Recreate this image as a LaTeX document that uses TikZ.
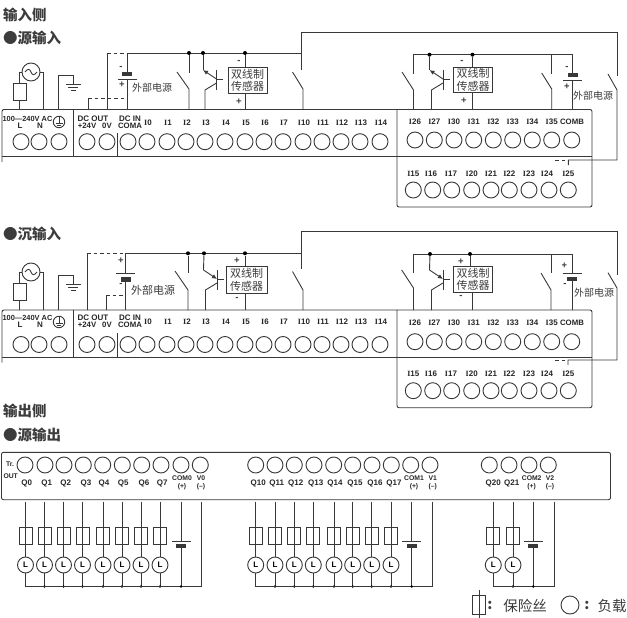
\documentclass[tikz,border=0pt]{standalone}
\usepackage{fontspec}
\setmainfont{Liberation Sans}
\newfontfamily\cjk{Noto Sans CJK SC}
\newfontfamily\slab{Liberation Serif}
\usetikzlibrary{arrows.meta,calc}
\definecolor{wirecol}{HTML}{383838}
\definecolor{textcol}{HTML}{3C3C3C}
\tikzset{
	wire/.style={draw=wirecol, line width=0.9pt},
	dashwire/.style={wire, dash pattern=on 3.5pt off 3pt},
	term/.style={circle, wire, minimum size=16pt, inner sep=0pt},
	pinlabel/.style={inner sep=0pt, text=black!85, font=\bfseries\fontsize{8}{8}\selectfont},
	narrowlabel/.style={pinlabel, font=\bfseries\fontsize{7.8}{8}\selectfont},
	tinylabel/.style={inner sep=0pt, text=black!85, align=center, font=\bfseries\fontsize{6.8}{8}\selectfont},
	headline/.style={anchor=west, inner sep=0pt, text=textcol, font=\cjk\bfseries\fontsize{14.5}{14.5}\selectfont},
	sourcetext/.style={inner sep=0pt, text=textcol, font=\cjk\fontsize{10}{10}\selectfont},
	legendtext/.style={inner sep=0pt, text=textcol, font=\cjk\bfseries\fontsize{14.5}{14.5}\selectfont},
	sensorbox/.style={rectangle, wire, minimum width=39pt, minimum height=25.5pt, inner sep=0pt, align=center, text=textcol, font=\cjk\fontsize{11}{12.5}\selectfont},
	fusebox/.style={rectangle, wire, minimum width=13pt, minimum height=17pt, inner sep=0pt},
	loadring/.style={circle, wire, minimum size=16pt, inner sep=0pt, font=\bfseries\fontsize{8}{8}\selectfont},
	acring/.style={circle, wire, minimum size=18pt, inner sep=0pt},
	batbar/.style={rectangle, fill=wirecol, minimum width=10pt, minimum height=4.5pt, inner sep=0pt},
	joint/.style={circle, fill=black, minimum size=4pt, inner sep=0pt},
	smalljoint/.style={circle, fill=black, minimum size=2.8pt, inner sep=0pt},
	sign/.style={inner sep=0pt, text=textcol, font=\bfseries\fontsize{9.5}{9.5}\selectfont},
}
\newcommand{\ii}{{\slab\bfseries I}}
% blade of a switch, then straight down to the terminal block
\newcommand{\blade}[6]{%
	\coordinate (#1a) at (#2,#3);
	\coordinate (#1b) at (#4,#5);
	\draw[wire] (#1a) -- (#1b) -- (#1b |- #6);
}
% transistor: name, x of outer wire, y of top, arrow, block top
\newcommand{\npn}[5]{%
	\coordinate (#1e) at (#2,#3);
	\coordinate (#1m) at ($(#2,#3)+(13.5,9)$);
	\coordinate (#1u) at ($(#2,#3)+(13.5,0)$);
	\coordinate (#1d) at ($(#2,#3)+(13.5,20)$);
	\coordinate (#1o) at ($(#2,#3)+(20,9)$);
	\coordinate (#1f) at ($(#2,#3)+(13.5,13)$);
	\coordinate (#1c) at ($(#2,#3)+(2,20)$);
	\draw[wire, #4] (#1e) -- (#1m);
	\draw[wire] (#1u) -- (#1d);
	\draw[wire] (#1m) -- (#1o);
	\draw[wire] (#1f) -- (#1c) -- (#1c |- #5);
}
% battery: name, x, y of plate, y of bar
\newcommand{\battery}[4]{%
	\coordinate (#1p) at (#2,#3);
	\node[batbar] (#1b) at (#2,#4) {};
	\draw[wire] ($(#1p)+(-9.5,0)$) -- ($(#1p)+(9.5,0)$);
}
% mains side with earth, one block each
\newcommand{\acfeed}[3]{%
	\node[acring] (#1ac) at (31,#2) {};
	\draw[wire] ($(#1ac)+(-6,0)$) .. controls ($(#1ac)+(-3,-4)$) and ($(#1ac)+(-1,-3)$) .. (#1ac.center) .. controls ($(#1ac)+(1,3)$) and ($(#1ac)+(3,4)$) .. ($(#1ac)+(6,0)$);
	\node[fusebox] (#1fu) at (19.5,#2+19.5) {};
	\coordinate (#1r) at (43,#2);
	\draw[wire] (#1ac.west) -| (#1fu.north);
	\draw[wire] (#1fu.south) -- (#1fu.south |- #3);
	\draw[wire] (#1ac.east) -- (#1r) -- (#1r |- #3);
	\coordinate (#1g) at (58,#2+3);
	\coordinate (#1h) at (73,#2+3);
	\coordinate (#1k) at (73,#2+12.5);
	\draw[wire] (#1g |- #3) -- (#1g) -- (#1h) -- (#1k);
	\draw[wire] ($(#1k)+(-7.5,0)$) -- ($(#1k)+(7.5,0)$);
	\draw[wire] ($(#1k)+(-5,3)$) -- ($(#1k)+(5,3)$);
	\draw[wire] ($(#1k)+(-2.5,6)$) -- ($(#1k)+(2.5,6)$);
}
% terminal block: prefix, top, middle, bottom, y of left row, left labels, right row, right labels, lower row
\newcommand{\inblock}[9]{%
	\draw[wire, rounded corners=2pt] (2,#3+5.5) -- (2,#2) -- (592,#2) -- (592,#4) -- (397,#4) -- (397,#2);
	\draw[wire] (2,#3) -- (592,#3);
	\draw[wire] (73,#2) -- (73,#3);
	\draw[wire] (117,#2+23) -- (117,#3);
	\foreach \n/\x in {a/21,b/39,c/59,d/87,e/107,f/128}
		\node[term] (#1T\n) at (\x,#5) {};
	\foreach \t/\x in {0/147,1/167,2/186,3/205,4/225,5/245,6/264,7/283,10/303,11/322,12/341,13/360,14/380}{
		\node[term] (#1I\t) at (\x,#5) {};
		\node[pinlabel] (#1L\t) at (\x+1,#6) {\ii\t};
	}
	\foreach \t/\x in {26/415,27/434.3,30/454,31/473.7,32/493.3,33/512.7,34/532.3,35/551.7}{
		\node[term] (#1I\t) at (\x,#7) {};
		\node[pinlabel] (#1L\t) at (\x,#8) {\ii\t};
	}
	\node[term] (#1Tg) at (571.7,#7) {};
	\node[narrowlabel] (#1Lg) at (572,#8) {COMB};
	\foreach \t/\x in {15/413.3,16/432.7,17/451.7,20/471.7,21/491,22/509.3,23/529,24/549,25/568.3}{
		\node[term] (#1I\t) at (\x,#9) {};
	}
}
\newcommand{\lowerlabels}[2]{%
	\foreach \t/\x in {15/413.3,16/431,17/451,20/471.7,21/491,22/509.3,23/529,24/547,25/568.3}
		\node[pinlabel] (#1L\t) at (\x,#2) {\ii\t};
}
% texts at the left end of a block
\newcommand{\sidelabels}[4]{%
	\node[pinlabel, font=\bfseries\fontsize{7.4}{8}\selectfont] (#1mains) at (27.5,#2) {100—240V AC};
	\node[pinlabel] (#1LL) at (20,#3) {L};
	\node[pinlabel] (#1LN) at (40,#3) {N};
	\node[circle, wire, fill=white, minimum size=11.5pt, inner sep=0pt] (#1Lpe) at (59,#4) {};
	\draw[wire, line width=0.8pt] (#1Lpe.north) -- ($(#1Lpe)+(0,1.5)$);
	\draw[wire, line width=0.8pt] ($(#1Lpe)+(-3.5,1.5)$) -- ($(#1Lpe)+(3.5,1.5)$);
	\draw[wire, line width=0.8pt] ($(#1Lpe)+(-2,3.2)$) -- ($(#1Lpe)+(2,3.2)$);
	\node[pinlabel] (#1Ldc) at (93,#2) {DC OUT};
	\node[narrowlabel] (#1L24) at (87,#3) {+24V};
	\node[narrowlabel] (#1L0v) at (107,#3) {0V};
	\node[pinlabel] (#1Lin) at (130,#2) {DC IN};
	\node[narrowlabel] (#1Lcm) at (130,#3) {COMA};
}
\begin{document}
\begin{tikzpicture}[x=1pt, y=-1pt, >={Latex[length=5pt,width=4.5pt]}]
	\useasboundingbox (0,0) rectangle (627,618);
	\node[headline] (title1) at (3,15) {输入侧};
	\node[headline] (title2) at (3,38) {●源输入};
	\node[headline] (title3) at (3,234) {●沉输入};
	\node[headline] (title4) at (3,411) {输出侧};
	\node[headline] (title5) at (3,435) {●源输出};

	%source input
	\coordinate (top1) at (0,109.5);
	\inblock{a}{109.5}{156.5}{207}{141.7}{123}{140}{122}{190}
	\lowerlabels{a}{173.7}
	\sidelabels{a}{118.5}{125.5}{122}
	\acfeed{a}{72}{top1}
	\coordinate (railA) at (107,53);
	\coordinate (railB) at (127,53);
	\coordinate (railC) at (301,53);
	\coordinate (loopA) at (301,32.5);
	\coordinate (loopB) at (617,32.5);
	\draw[wire] (railA |- top1) -- (railA);
	\draw[dashwire] (railA) -- (railB);
	\draw[wire] (railB) -- (railC);
	\battery{ab}{127}{79}{74}
	\draw[wire] (railB) -- (abb.north);
	\draw[wire] (abp) -- (abp |- top1);
	\node[sign] (abm) at (121,68) {-};
	\node[sign] (abq) at (122,85) {+};
	\node[sourcetext] (abt) at (152,88) {外部电源};
	\coordinate (dcA) at (88,98);
	\coordinate (dcB) at (127,98);
	\draw[wire] (dcA |- top1) -- (dcA);
	\draw[dashwire] (dcA) -- (dcB);
	\node[joint] (j2) at (189,53) {};
	\node[joint] (j3) at (203,53) {};
	\node[joint] (j5) at (245,53) {};
	\blade{s2}{177}{72}{189}{89}{top1}
	\coordinate (s2t) at (189,73);
	\draw[wire] (j2) -- (s2t);
	\npn{t3}{203}{70}{<-}{top1}
	\draw[wire] (j3) -- (t3e);
	\node[sensorbox] (sen1) at (247.5,80.5) {双线制\\传感器};
	\draw[wire] (j5) -- (j5 |- sen1.north);
	\draw[wire] (j5 |- sen1.south) -- (j5 |- top1);
	\node[sign] (sen1m) at (239,62) {-};
	\node[sign] (sen1p) at (239,102) {+};
	\blade{s10}{292.5}{72}{303}{89}{top1}
	\coordinate (s10t) at (301,70);
	\draw[wire] (loopA) -- (s10t);
	\draw[wire] (loopA) -- (loopB);
	%right part
	\coordinate (rrL) at (413,54.7);
	\coordinate (rrR) at (572.7,54.7);
	\draw[wire] (rrL) -- (rrR);
	\coordinate (s26t) at (413,74);
	\draw[wire] (rrL) -- (s26t);
	\blade{s26}{402}{72}{413.5}{90}{top1}
	\node[joint] (j27) at (429.5,54.7) {};
	\node[joint] (j31) at (472.5,54.7) {};
	\npn{t27}{429.5}{70}{<-}{top1}
	\draw[wire] (j27) -- (t27e);
	\node[sensorbox] (sen2) at (473,80) {双线制\\传感器};
	\draw[wire] (j31) -- (j31 |- sen2.north);
	\draw[wire] (j31 |- sen2.south) -- (j31 |- top1);
	\node[sign] (sen2m) at (462,62) {-};
	\node[sign] (sen2p) at (464,101) {+};
	\coordinate (s35r) at (551.7,54.7);
	\coordinate (s35t) at (551.7,74);
	\draw[wire] (s35r) -- (s35t);
	\blade{s35}{541.7}{73}{551.7}{89}{top1}
	\battery{bb}{572.7}{80.7}{75}
	\draw[wire] (rrR) -- (bbb.north);
	\draw[wire] (bbp) -- (bbp |- top1);
	\node[sign] (bbm) at (567,68) {-};
	\node[sign] (bbq) at (567,87) {+};
	\node[sourcetext] (bbt) at (593,96) {外部电源};
	\coordinate (farA) at (617,76);
	\coordinate (farB) at (617,160);
	\coordinate (farC) at (568.3,160);
	\coordinate (farD) at (568.3,165);
	\coordinate (farE) at (565,160);
	\coordinate (farF) at (552,160);
	\coordinate (farG) at (608,74);
	\coordinate (farH) at (617,90);
	\draw[wire] (loopB) -- (farA);
	\draw[wire] (farG) -- (farH) -- (farB) -- (farC) -- (farD);
	\draw[dashwire] (farE) -- (farF);

	%sink input
	\coordinate (top2) at (0,310);
	\inblock{b}{310}{357}{407.7}{344.5}{322}{341.7}{323}{390.7}
	\lowerlabels{b}{374}
	\sidelabels{b}{318}{325}{322}
	\acfeed{b}{272}{top2}
	\coordinate (rail2A) at (87,253.3);
	\coordinate (rail2B) at (125.5,253.3);
	\coordinate (rail2C) at (301,253.3);
	\coordinate (loop2A) at (301,231);
	\coordinate (loop2B) at (617,231);
	\draw[wire] (rail2A |- top2) -- (rail2A);
	\draw[dashwire] (rail2A) -- (rail2B);
	\draw[wire] (rail2B) -- (rail2C);
	\battery{cb}{125.5}{273.3}{279.5}
	\draw[wire] (rail2B) -- (cbp);
	\draw[wire] (cbb.south) -- (cbb.south |- top2);
	\node[sign] (cbq) at (121,261) {+};
	\node[sign] (cbm) at (121,285) {-};
	\node[sourcetext, font=\cjk\fontsize{11}{11}\selectfont] (cbt) at (153,290) {外部电源};
	\coordinate (dc2A) at (106,295);
	\coordinate (dc2B) at (125.5,295);
	\draw[wire] (dc2A |- top2) -- (dc2A);
	\draw[dashwire] (dc2A) -- (dc2B);
	\node[joint] (k2) at (188,253.3) {};
	\node[joint] (k3) at (204,253.3) {};
	\node[joint] (k5) at (245,253.3) {};
	\blade{u2}{175}{271}{188}{290}{top2}
	\coordinate (u2t) at (188,273);
	\draw[wire] (k2) -- (u2t);
	\npn{v3}{203.5}{270}{->}{top2}
	\draw[wire] (k3) -- (v3e);
	\node[sensorbox, minimum width=41pt, minimum height=26.5pt] (sen3) at (246.5,280) {双线制\\传感器};
	\draw[wire] (k5) -- (k5 |- sen3.north);
	\draw[wire] (k5 |- sen3.south) -- (k5 |- top2);
	\node[sign] (sen3p) at (237,261) {+};
	\node[sign] (sen3m) at (237,299) {-};
	\blade{u10}{292.5}{271.5}{303}{290}{top2}
	\coordinate (u10t) at (301,269);
	\draw[wire] (loop2A) -- (u10t);
	\draw[wire] (loop2A) -- (loop2B);
	%right part
	\coordinate (qqL) at (413,254);
	\coordinate (qqR) at (572,254);
	\draw[wire] (qqL) -- (qqR);
	\coordinate (u26t) at (413,273);
	\draw[wire] (qqL) -- (u26t);
	\blade{u26}{401.7}{270}{413.5}{288}{top2}
	\node[joint] (k27) at (430,254) {};
	\node[joint] (k31) at (470,254) {};
	\npn{v27}{429.5}{270}{->}{top2}
	\draw[wire] (k27) -- (v27e);
	\node[sensorbox] (sen4) at (473,279.2) {双线制\\传感器};
	\draw[wire] (k31) -- (k31 |- sen4.north);
	\coordinate (sen4b) at (472.3,291.7);
	\draw[wire] (sen4b) -- (sen4b |- top2);
	\node[sign] (sen4p) at (461,262) {+};
	\node[sign] (sen4m) at (461,297) {-};
	\coordinate (u35r) at (551,254);
	\coordinate (u35t) at (551,273);
	\draw[wire] (u35r) -- (u35t);
	\blade{u35}{541}{273}{551}{290}{top2}
	\battery{db}{572}{273.3}{279}
	\draw[wire] (qqR) -- (dbp);
	\draw[wire] (dbb.south) -- (dbb.south |- top2);
	\node[sign] (dbq) at (564.5,266) {+};
	\node[sign] (dbm) at (565,285) {-};
	\node[sourcetext] (dbt) at (594,293) {外部电源};
	\coordinate (far2A) at (617,275);
	\coordinate (far2B) at (617,360);
	\coordinate (far2C) at (568,360);
	\coordinate (far2D) at (568,365);
	\coordinate (far2E) at (565,360);
	\coordinate (far2F) at (552,360);
	\coordinate (far2G) at (608,272.7);
	\coordinate (far2H) at (617,288);
	\draw[wire] (loop2B) -- (far2A);
	\draw[wire] (far2G) -- (far2H) -- (far2B) -- (far2C) -- (far2D);
	\draw[dashwire] (far2E) -- (far2F);

	%source output
	\node[rectangle, wire, rounded corners=2pt, minimum width=609pt, minimum height=47.4pt, inner sep=0pt] (outbox) at (306,476) {};
	\coordinate (wtop) at (0,501.5);
	\coordinate (wbus) at (0,586.5);
	\node[tinylabel] (tr) at (10,464) {Tr.};
	\node[tinylabel] (trout) at (10.7,476) {OUT};
	\foreach \n/\cx/\lx/\wx in {0/25/26.7/25.5,1/45/46.7/44.5,2/64/65.7/63.5,3/83.3/86/82.5,4/102.7/104/103,5/122.3/123.3/122,6/141.7/144/141,7/161/162.3/160,
		10/255.7/258.3/255.7,11/275/276.7/275,12/294.3/295.7/294.3,13/314/315.7/313.3,14/333.7/335/334,15/352.7/355/352.7,16/372/375/371.7,17/391.3/394/391,
		20/489.3/493.3/493.3,21/509/511.7/513}{
		\node[term] (q\n) at (\cx,465) {};
		\node[pinlabel] (ql\n) at (\lx,483.3) {Q\n};
		\node[fusebox] (qf\n) at (\wx,536) {};
		\node[loadring] (ql\n r) at (\wx,565) {L};
		\coordinate (qw\n) at (\wx,501.5);
		\draw[wire] (qw\n) -- (ql\n r.north);
		\draw[wire] (ql\n r.south) -- (ql\n r.south |- wbus);
	}
	\foreach \n/\x in {1/44.5,2/63.5,3/82.5,4/103,5/122,6/141,7/160,11/275,12/294.3,13/313.3,14/334,15/352.7,16/371.7,17/391,21/513}
		\node[smalljoint] (qd\n) at (\x,586.5) {};
	\foreach \n/\fx/\cx/\lx/\wx/\vx/\vl/\vw in {0/25.5/181/182/181/200.3/201/201.7,1/255.7/410.7/414/411.7/430/432.7/432.7,2/493.3/529/531.7/533.3/548.3/550/554}{
		\node[term] (com\n) at (\cx,465) {};
		\node[term] (v\n) at (\vx,465) {};
		\node[tinylabel] (coml\n) at (\lx,483) {COM\n\\(+)};
		\node[tinylabel] (vl\n) at (\vl,483) {V\n\\(–)};
		\battery{ob\n}{\wx}{541}{546}
		\coordinate (cw\n) at (\wx,501.5);
		\coordinate (vw\n) at (\vw,501.5);
		\coordinate (fw\n) at (\fx,501.5);
		\draw[wire] (cw\n) -- (ob\n p);
		\draw[wire] (ob\n b.south) -- (ob\n b.south |- wbus);
		\draw[wire] (vw\n) -- (vw\n |- wbus) -- (fw\n |- wbus);
		\node[smalljoint] (cd\n) at (\wx,586.5) {};
	}

	%legend
	\node[fusebox, minimum height=19pt] (legfuse) at (478.5,604.5) {};
	\coordinate (legA) at (479,590);
	\coordinate (legB) at (479,618);
	\draw[wire] (legA) -- (legB);
	\node[legendtext] (legf) at (490,605.5) {:};
	\node[legendtext, font=\cjk\fontsize{14.5}{14.5}\selectfont] (legft) at (525,605.5) {保险丝};
	\node[circle, wire, minimum size=18pt, inner sep=0pt] (legload) at (570,605) {};
	\node[legendtext] (legl) at (587,605.5) {:};
	\node[legendtext, font=\cjk\fontsize{14.5}{14.5}\selectfont] (leglt) at (612,605.5) {负载};
\end{tikzpicture}
\end{document}
